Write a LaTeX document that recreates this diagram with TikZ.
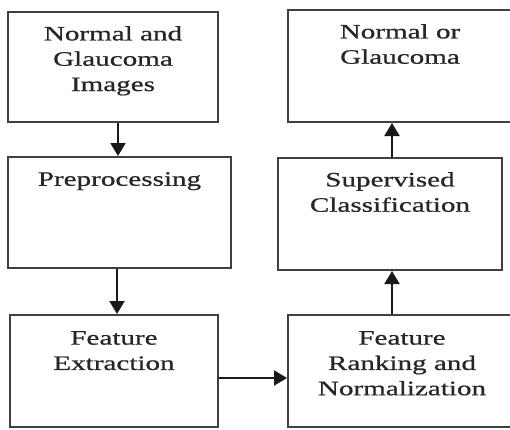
\documentclass[tikz,border=0pt]{standalone}
\usepackage{fontspec}
\setmainfont{Liberation Serif}[FakeStretch=1.42,FakeBold=0.7]
\usetikzlibrary{arrows.meta,positioning}
\begin{document}
\begin{tikzpicture}[x=1pt,y=-1pt,
  box/.style={draw=black!75, line width=2pt, rectangle, inner sep=0pt},
  txt/.style={inner sep=0pt, align=center, text=black!85,
    font=\fontsize{20.5}{25.3}\selectfont},
  arr/.style={draw=black!90, line width=2pt, -{Triangle[length=13pt,width=15pt]}}]
\useasboundingbox (0,0) rectangle (510,429);
\clip (0,0) rectangle (510,429);
\fill[white] (0,0) rectangle (510,429);
% boxes
\node[box, minimum width=210pt, minimum height=110pt] (b1) at (113,67) {};
\node[box, minimum width=223pt, minimum height=111pt] (b2) at (119.5,212.5) {};
\node[box, minimum width=208pt, minimum height=112pt] (b3) at (114,371) {};
\node[box, minimum width=228pt, minimum height=112pt] (b4) at (402,371) {};
\node[box, minimum width=224pt, minimum height=112pt] (b5) at (390,214) {};
\node[box, minimum width=224pt, minimum height=112pt] (b6) at (400,66) {};
% texts
\node[txt, anchor=north] (t1) at ([yshift=-15pt]b1.north) {Normal and\\Glaucoma\\Images};
\node[txt, anchor=north] (t2) at ([yshift=-16pt]b2.north) {Preprocessing};
\node[txt, anchor=north] (t3) at ([yshift=-17pt]b3.north) {Feature\\Extraction};
\node[txt, anchor=north] (t4) at ([yshift=-17pt]b4.north) {Feature\\Ranking and\\Normalization};
\node[txt, anchor=north] (t5) at ([yshift=-15pt]b5.north) {Supervised\\Classification};
\node[txt, anchor=north] (t6) at ([yshift=-15pt]b6.north) {Normal or\\Glaucoma};
% arrows
\draw[arr] ([xshift=5pt]b1.south) -- ([xshift=5pt]b1.south |- b2.north);
\draw[arr] ([xshift=-2.5pt]b2.south) -- ([xshift=-2.5pt]b2.south |- b3.north);
\draw[arr] ([yshift=-7pt]b3.east) -- ([yshift=-7pt]b3.east -| b4.west);
\draw[arr] ([xshift=-10pt]b4.north) -- ([xshift=-10pt]b4.north |- b5.south);
\draw[arr] ([xshift=2pt]b5.north) -- ([xshift=2pt]b5.north |- b6.south);
\end{tikzpicture}
\end{document}
